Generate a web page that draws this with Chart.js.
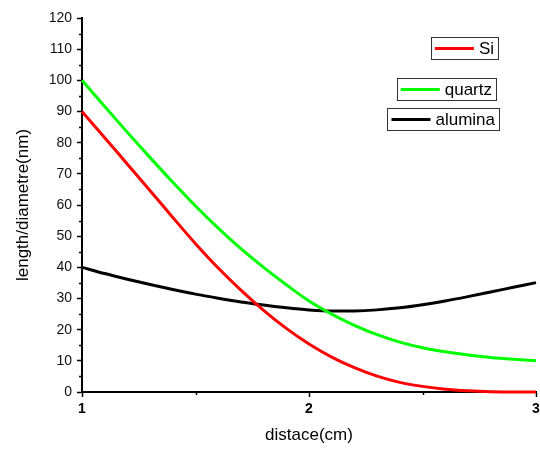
<!DOCTYPE html>
<html>
<head>
<meta charset="utf-8">
<script src="https://cdn.jsdelivr.net/npm/chart.js@4.4.0/dist/chart.umd.min.js"></script>
<style>
  html, body { margin: 0; padding: 0; background: #fff; }
  #wrap { width: 540px; height: 450px; position: relative; }
</style>
</head>
<body>
<div id="wrap"><canvas id="c" width="540" height="450"></canvas></div>
<script>
// ---- data ----
const distance = [1.0, 1.1, 1.2, 1.3, 1.4, 1.5, 1.6, 1.7, 1.8, 1.9, 2.0, 2.1, 2.2, 2.3, 2.4, 2.5, 2.6, 2.7, 2.8, 2.9, 3.0];
const siValues = [90, 81.6, 73.1, 64.6, 56, 47.6, 39.8, 32.7, 26.2, 20.4, 15.4, 11.2, 7.8, 5.1, 3.1, 1.8, 0.9, 0.4, 0.1, 0, 0];
const quartzValues = [100, 91.6, 83.3, 75.2, 67.3, 59.7, 52.6, 46.0, 40.0, 34.4, 29.2, 25.0, 21.4, 18.4, 16.0, 14.2, 12.9, 11.9, 11.1, 10.5, 10.0];
const aluminaValues = [40, 38.0, 36.2, 34.5, 32.9, 31.4, 30.1, 28.9, 27.9, 27.0, 26.3, 25.95, 26.0, 26.35, 27.0, 28.0, 29.2, 30.6, 32.1, 33.6, 35.1];
const seriesNames = ['Si', 'quartz', 'alumina'];
const seriesColors = ['#ff0000', '#00ff00', '#000000'];
const xLabel = 'distace(cm)';
const yLabel = 'length/diametre(nm)';
const yMinorTicks = [5, 15, 25, 35, 45, 55, 65, 75, 85, 95, 105, 115];
const xMinorTicks = [1.5, 2.5];

const FONT = '"Liberation Sans", Arial, sans-serif';

function pts(vals) { return distance.map((x, i) => ({ x: x, y: vals[i] })); }

const minorTicks = {
  id: 'minorTicks',
  afterDraw(chart) {
    const ctx = chart.ctx;
    const xs = chart.scales.x, ys = chart.scales.y;
    const left = chart.chartArea.left, bottom = chart.chartArea.bottom;
    ctx.save();
    ctx.strokeStyle = '#000';
    ctx.lineWidth = 1.5;
    ctx.beginPath();
    yMinorTicks.forEach(v => {
      const p = Math.round(ys.getPixelForValue(v)) + 0.5;
      ctx.moveTo(left - 3, p); ctx.lineTo(left, p);
    });
    xMinorTicks.forEach(v => {
      const p = Math.round(xs.getPixelForValue(v)) + 0.5;
      ctx.moveTo(p, bottom); ctx.lineTo(p, bottom + 3);
    });
    ctx.stroke();
    ctx.restore();
  }
};

const boxLegend = {
  id: 'boxLegend',
  afterDraw(chart, args, opts) {
    const ctx = chart.ctx;
    ctx.save();
    ctx.font = '17px ' + FONT;
    ctx.textBaseline = 'middle';
    chart.data.datasets.forEach((ds, i) => {
      const pos = opts.boxes[i];
      const tw = ctx.measureText(ds.label).width;
      const w = 4 + 39 + 5 + tw + 4;
      const h = 22;
      const x0 = pos.right - w, y0 = pos.top;
      ctx.fillStyle = '#fff';
      ctx.fillRect(x0, y0, w, h);
      ctx.strokeStyle = '#333';
      ctx.lineWidth = 1;
      ctx.strokeRect(Math.round(x0) + 0.5, y0 + 0.5, Math.round(w), h);
      ctx.strokeStyle = ds.borderColor;
      ctx.lineWidth = 3;
      ctx.beginPath();
      ctx.moveTo(x0 + 4, y0 + h / 2 + 0.5);
      ctx.lineTo(x0 + 43, y0 + h / 2 + 0.5);
      ctx.stroke();
      ctx.fillStyle = '#000';
      ctx.fillText(ds.label, x0 + 48, y0 + h / 2 + 1);
    });
    ctx.restore();
  }
};

new Chart(document.getElementById('c'), {
  type: 'line',
  data: {
    datasets: [siValues, quartzValues, aluminaValues].map((vals, i) => ({
      label: seriesNames[i],
      data: pts(vals),
      borderColor: seriesColors[i],
      backgroundColor: seriesColors[i],
      borderWidth: 3,
      pointRadius: 0,
      cubicInterpolationMode: 'monotone',
      clip: 6,
      fill: false
    }))
  },
  options: {
    responsive: false,
    animation: false,
    devicePixelRatio: 1,
    layout: { padding: { top: 18, right: 4, left: 0, bottom: 0 } },
    plugins: {
      legend: { display: false },
      tooltip: { enabled: false },
      boxLegend: {
        boxes: [
          { right: 498, top: 37 },
          { right: 496, top: 78 },
          { right: 499, top: 108 }
        ]
      }
    },
    scales: {
      x: {
        type: 'linear',
        min: 1, max: 3,
        afterFit(scale) { scale.height = 58; scale.paddingRight = 4; scale.paddingLeft = 0; },
        ticks: {
          stepSize: 1,
          color: '#000',
          padding: 4,
          font: { family: FONT, size: 14, weight: 'bold' }
        },
        grid: { drawOnChartArea: false, drawTicks: true, tickLength: 5, tickWidth: 1.5, tickColor: '#000' },
        border: { display: true, color: '#000', width: 2 },
        title: {
          display: true, text: xLabel, color: '#000',
          font: { family: FONT, size: 17 },
          padding: { top: 0, bottom: 4 }
        }
      },
      y: {
        type: 'linear',
        min: 0, max: 120,
        afterFit(scale) { scale.width = 82; },
        ticks: {
          stepSize: 10,
          color: '#111',
          padding: 5,
          font: { family: FONT, size: 14 }
        },
        grid: { drawOnChartArea: false, drawTicks: true, tickLength: 5, tickWidth: 1.5, tickColor: '#000' },
        border: { display: true, color: '#000', width: 2 },
        title: {
          display: true, text: yLabel, color: '#000',
          font: { family: FONT, size: 17 },
          padding: { top: 13, bottom: 0 }
        }
      }
    }
  },
  plugins: [minorTicks, boxLegend]
});
</script>
</body>
</html>
